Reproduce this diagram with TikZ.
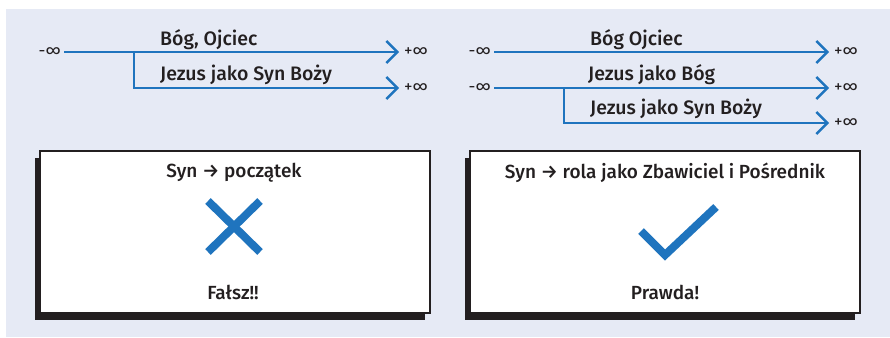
\documentclass[tikz,border=0pt]{standalone}
\usepackage{fontspec}
\setmainfont{Fira Sans}
\newfontfamily\sredni{Fira Sans Medium}
\usepackage{tikz}
\usetikzlibrary{positioning}
\usetikzlibrary{arrows.meta}
\usetikzlibrary{shadows}

\definecolor{tlo}{HTML}{E6EAF5}
\definecolor{niebieski}{HTML}{1F74BE}
\definecolor{ciemny}{HTML}{231F20}

\begin{document}
\begin{tikzpicture}[x=1pt, y=-1pt,
    every node/.style={text=ciemny, font=\sredni\fontsize{19}{21}\selectfont},
    os/.style={draw=niebieski, line width=2.4pt, -{Straight Barb[length=11pt, width=22pt, line width=2.4pt]}},
    kraniec/.style={inner sep=0pt, font=\fontsize{17}{19}\selectfont},
    etykieta/.style={anchor=west, inner sep=0pt, font=\sredni\fontsize{19.5}{21}\selectfont},
    ramka/.style={draw=ciemny, line width=2pt, fill=white, minimum width=390pt, minimum height=162pt,
        drop shadow={shadow xshift=-5pt, shadow yshift=-7pt, fill=ciemny, opacity=1}},
    znak/.style={draw=niebieski, line width=8pt}]

    \useasboundingbox (0,0) rectangle (890,337);
    \fill[tlo] (6,9) rectangle (890,337);

    % Lewa strona: osie
    \node[kraniec, anchor=east] (m1) at (61,52) {-∞};
    \node[kraniec, anchor=west] (p1) at (404,52) {+∞};
    \node[kraniec, anchor=west] (p2) at (404,88) {+∞};
    \coordinate (r1) at (134,52);
    \draw[os, shorten >=5pt, shorten <=3pt] (m1) -- (p1);
    \draw[os, shorten >=5pt] (r1) |- (p2);
    \node[etykieta] (ojciec1) at (160,40) {Bóg, Ojciec};
    \node[etykieta] (syn1) at (160,75) {Jezus jako Syn Boży};

    % Prawa strona: osie
    \node[kraniec, anchor=east] (m3) at (491,52) {-∞};
    \node[kraniec, anchor=east] (m4) at (491,88) {-∞};
    \node[kraniec, anchor=west] (p3) at (834,52) {+∞};
    \node[kraniec, anchor=west] (p4) at (834,88) {+∞};
    \node[kraniec, anchor=west] (p5) at (834,123) {+∞};
    \coordinate (r2) at (564,88);
    \draw[os, shorten >=5pt, shorten <=3pt] (m3) -- (p3);
    \draw[os, shorten >=5pt, shorten <=3pt] (m4) -- (p4);
    \draw[os, shorten >=5pt] (r2) |- (p5);
    \node[etykieta] (ojciec2) at (590,40) {Bóg Ojciec};
    \node[etykieta] (bog2) at (588,75) {Jezus jako Bóg};
    \node[etykieta] (syn2) at (590,109) {Jezus jako Syn Boży};

    % Ramki
    \node[ramka] (falsz) at (234.5,231.5) {};
    \node[ramka] (prawda) at (665,232) {};

    \node (tekst1) at (234,173) {Syn → początek};
    \draw[znak] (208,201) -- (260,252);
    \draw[znak] (208,252) -- (260,201);
    \node (wynik1) at (233,292) {Fałsz!!};

    \node (tekst2) at (665,173) {Syn → rola jako Zbawiciel i Pośrednik};
    \draw[znak, line join=miter] (641,231) -- (665,255) -- (716,207);
    \node (wynik2) at (665,292) {Prawda!};
\end{tikzpicture}
\end{document}
